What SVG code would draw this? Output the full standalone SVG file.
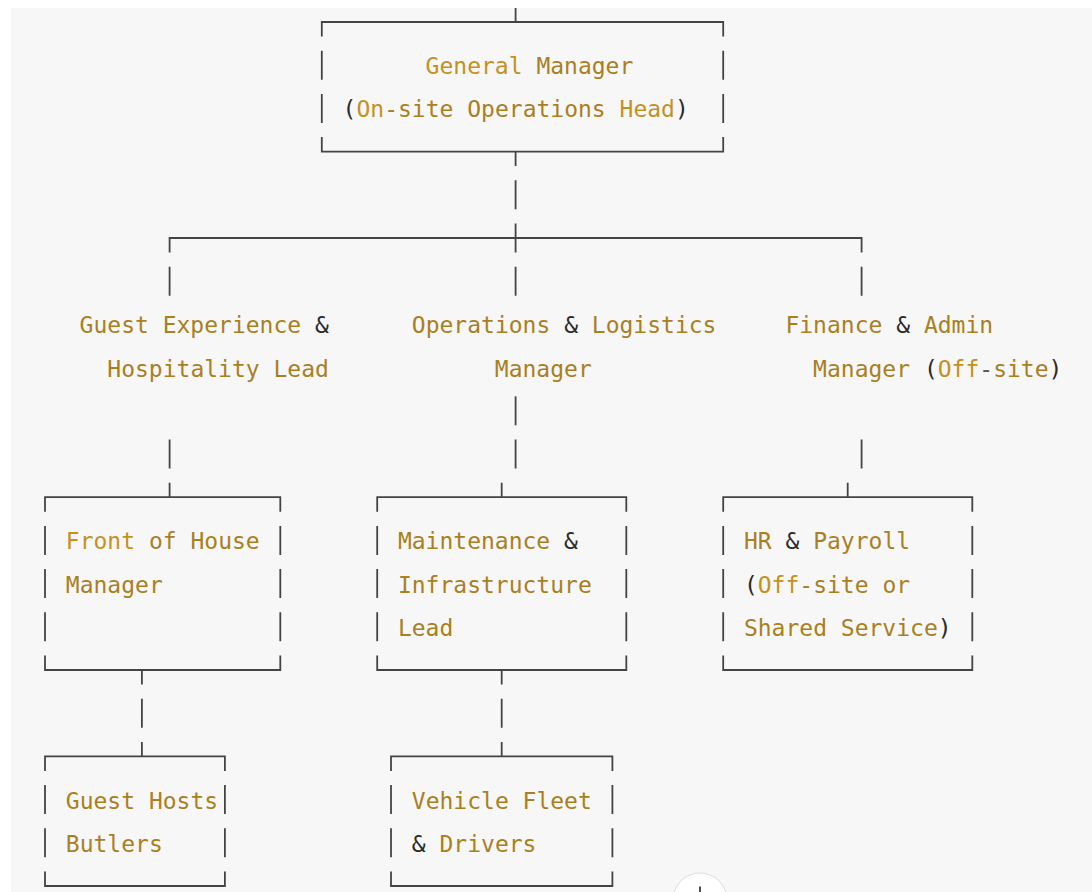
<svg xmlns="http://www.w3.org/2000/svg" width="1092" height="892" viewBox="0 0 1092 892">
<style>
.ln{fill:none;stroke:#444;stroke-width:1.8;stroke-linecap:butt}
.t{font-family:"DejaVu Sans Mono","Liberation Mono",monospace;font-size:23px;fill:#a97f22;white-space:pre}
.b{fill:#c4911f}
.p{fill:#2a2a2a}
</style>
<rect x="0" y="0" width="1092" height="892" fill="#ffffff"/>
<rect x="11" y="8" width="1081" height="884" fill="#f7f7f7"/>

<g id="connectors" class="ln">
<path d="M515.6,8 V22"/>
<path d="M515.6,151.6 V166.1 M515.6,180.3 V209.3"/>
<path d="M169.6,252.5 V238 H861.6 V252.5 M515.6,223.5 V252.5"/>
<path d="M169.6,266.7 V295.7 M515.6,266.7 V295.7 M861.6,266.7 V295.7"/>
<path d="M515.6,396.3 V425.3"/>
<path d="M169.6,439.5 V468.5 M515.6,439.5 V468.5 M861.6,439.5 V468.5"/>
<path d="M169.6,482.7 V497.2 M501.7,482.7 V497.2 M847.7,482.7 V497.2"/>
<path d="M141.9,670 V684.5 M501.7,670 V684.5"/>
<path d="M141.9,698.7 V727.7 M501.7,698.7 V727.7"/>
<path d="M141.9,741.9 V756.4 M501.7,741.9 V756.4"/>
</g>

<g id="general-manager">
<path class="ln" d="M321.8,36.5 V22 H723.2 V36.5 M321.8,50.7 V79.7 M723.2,50.7 V79.7 M321.8,93.9 V122.9 M723.2,93.9 V122.9 M321.8,137.1 V151.6 H723.2 V137.1"/>
<text class="t" x="425.6" y="74.2"><tspan class="b">General</tspan> Manager</text>
<text class="t" x="342.6" y="117.4"><tspan class="p">(</tspan><tspan class="b">On</tspan>-site Operations <tspan class="b">Head</tspan><tspan class="p">)</tspan></text>
</g>

<g id="guest-experience-lead">
<text class="t" x="79.6" y="333.4">Guest Experience <tspan class="p">&amp;</tspan></text>
<text class="t" x="107.3" y="376.6">Hospitality Lead</text>
</g>

<g id="operations-logistics-manager">
<text class="t" x="411.8" y="333.4">Operations <tspan class="p">&amp;</tspan> Logistics</text>
<text class="t" x="494.8" y="376.6">Manager</text>
</g>

<g id="finance-admin-manager">
<text class="t" x="785.4" y="333.4">Finance <tspan class="p">&amp;</tspan> Admin</text>
<text class="t" x="813.1" y="376.6">Manager <tspan class="p">(</tspan><tspan class="b">Off</tspan><tspan fill="#555">-</tspan>site<tspan class="p">)</tspan></text>
</g>

<g id="front-of-house-manager">
<path class="ln" d="M45,511.7 V497.2 H280.3 V511.7 M45,525.9 V554.9 M280.3,525.9 V554.9 M45,569.1 V598.1 M280.3,569.1 V598.1 M45,612.3 V641.3 M280.3,612.3 V641.3 M45,655.5 V670 H280.3 V655.5"/>
<text class="t" x="65.8" y="549.4"><tspan class="b">Front</tspan> of House</text>
<text class="t" x="65.8" y="592.6">Manager</text>
</g>

<g id="maintenance-infrastructure-lead">
<path class="ln" d="M377.2,511.7 V497.2 H626.3 V511.7 M377.2,525.9 V554.9 M626.3,525.9 V554.9 M377.2,569.1 V598.1 M626.3,569.1 V598.1 M377.2,612.3 V641.3 M626.3,612.3 V641.3 M377.2,655.5 V670 H626.3 V655.5"/>
<text class="t" x="397.9" y="549.4">Maintenance <tspan class="p">&amp;</tspan></text>
<text class="t" x="397.9" y="592.6">Infrastructure</text>
<text class="t" x="397.9" y="635.8">Lead</text>
</g>

<g id="hr-payroll">
<path class="ln" d="M723.2,511.7 V497.2 H972.3 V511.7 M723.2,525.9 V554.9 M972.3,525.9 V554.9 M723.2,569.1 V598.1 M972.3,569.1 V598.1 M723.2,612.3 V641.3 M972.3,612.3 V641.3 M723.2,655.5 V670 H972.3 V655.5"/>
<text class="t" x="743.9" y="549.4">HR <tspan class="p">&amp;</tspan> Payroll</text>
<text class="t" x="743.9" y="592.6"><tspan class="p">(</tspan><tspan class="b">Off</tspan>-site or</text>
<text class="t" x="743.9" y="635.8">Shared Service<tspan class="p">)</tspan></text>
</g>

<g id="guest-hosts-butlers">
<path class="ln" d="M45,770.9 V756.4 H224.9 V770.9 M45,785.1 V814.1 M224.9,785.1 V814.1 M45,828.3 V857.3 M224.9,828.3 V857.3 M45,871.5 V886 H224.9 V871.5"/>
<text class="t" x="65.8" y="808.6">Guest Hosts</text>
<text class="t" x="65.8" y="851.8">Butlers</text>
</g>

<g id="vehicle-fleet-drivers">
<path class="ln" d="M391,770.9 V756.4 H612.4 V770.9 M391,785.1 V814.1 M612.4,785.1 V814.1 M391,828.3 V857.3 M612.4,828.3 V857.3 M391,871.5 V886 H612.4 V871.5"/>
<text class="t" x="411.8" y="808.6">Vehicle Fleet</text>
<text class="t" x="411.8" y="851.8"><tspan class="p">&amp;</tspan> Drivers</text>
</g>

<g id="scroll-button">
<circle cx="700" cy="900" r="27" fill="#ffffff" stroke="#dddddd" stroke-width="1"/>
<path d="M700,886.5 V892" stroke="#222" stroke-width="1.6"/>
</g>
</svg>
